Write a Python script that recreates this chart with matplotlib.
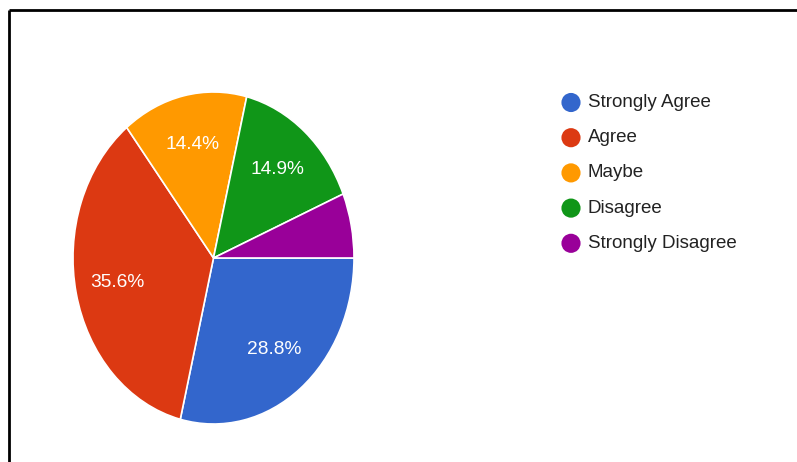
import matplotlib
matplotlib.use("Agg")
import matplotlib.pyplot as plt
from matplotlib.lines import Line2D

categories = ["Strongly Agree", "Agree", "Maybe", "Disagree", "Strongly Disagree"]
shares = [28.8, 35.6, 14.4, 14.9, 6.3]
colors = ["#3366CC", "#DC3912", "#FF9900", "#109618", "#990099"]

FONT = ["Liberation Sans", "Arial", "DejaVu Sans"]

W, H = 797, 462
fig = plt.figure(figsize=(W / 100, H / 100), dpi=100)
fig.patch.set_facecolor("white")

# pie axes: centre (213.5, 258) px, radii 140.5 x 166 px
cx, cy, rx, ry = 213.5, 258.0, 140.5, 166.0
lim = 1.05
ax = fig.add_axes([(cx - rx * lim) / W, (H - cy - ry * lim) / H,
                   2 * rx * lim / W, 2 * ry * lim / H])

wedges, texts, autotexts = ax.pie(
    shares, colors=colors, startangle=0, counterclock=False,
    autopct=lambda p: f"{p:.1f}%" if p > 10 else "",
    pctdistance=0.7,
    wedgeprops=dict(edgecolor="white", linewidth=1.2),
    textprops=dict(color="white", fontsize=13.8, family=FONT),
)
ax.set_aspect("auto")
ax.set_xlim(-lim, lim)
ax.set_ylim(-lim, lim)
ax.axis("off")

# overlay in pixel coordinates for the legend and the frame
ov = fig.add_axes([0, 0, 1, 1], zorder=5)
ov.set_xlim(0, W)
ov.set_ylim(H, 0)
ov.axis("off")
ov.patch.set_alpha(0)

for i, (name, col) in enumerate(zip(categories, colors)):
    y = 102.5 + 35.2 * i
    ov.scatter([571], [y], s=190, color=col, edgecolors="none")
    ov.text(588, y, name, fontsize=13.5, family=FONT, color="#222222",
            va="center", ha="left")

# frame: left and top rules
ov.add_line(Line2D([9.5, 9.5], [9.5, H + 5], color="black", linewidth=2,
                   solid_capstyle="butt"))
ov.add_line(Line2D([9.5, W + 5], [9.5, 9.5], color="black", linewidth=2,
                   solid_capstyle="butt"))

fig.savefig("out.png", dpi=100, facecolor="white")
